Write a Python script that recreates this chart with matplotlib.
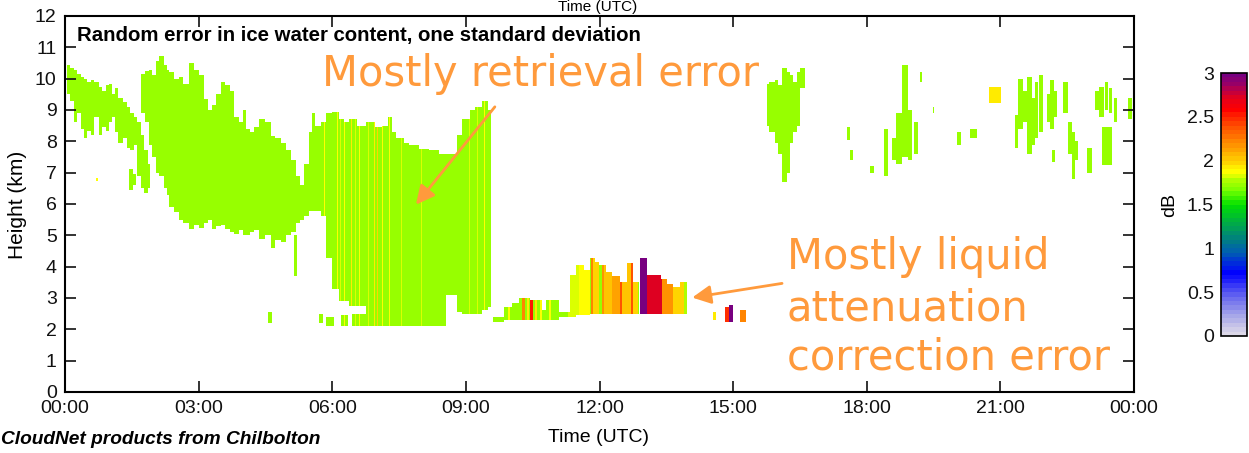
import numpy as np
import matplotlib
matplotlib.use("Agg")
import matplotlib.pyplot as plt
from matplotlib.colors import LinearSegmentedColormap, ListedColormap

plt.rcParams["font.family"] = ["Liberation Sans", "DejaVu Sans"]

# ---------------------------------------------------------------- axes labels
hour_ticks = [0, 3, 6, 9, 12, 15, 18, 21, 24]
hour_labels = ["00:00", "03:00", "06:00", "09:00", "12:00", "15:00", "18:00", "21:00", "00:00"]
height_ticks = list(range(0, 13))
err_ticks = [0, 0.5, 1, 1.5, 2, 2.5, 3]
err_tick_labels = ["0", "0.5", "1", "1.5", "2", "2.5", "3"]

# ---------------------------------------------------------------- cloud columns
# (start hour, end hour, base km, top km); typical ice random error in dB below
cirrus_early = [
    (0.05, 0.12, 9.5, 10.45), (0.12, 0.20, 9.3, 10.35), (0.20, 0.27, 8.6, 10.3),
    (0.27, 0.36, 8.9, 10.15), (0.36, 0.43, 8.4, 10.05), (0.43, 0.50, 8.1, 10.0),
    (0.50, 0.58, 8.35, 9.9), (0.58, 0.65, 8.2, 9.95), (0.65, 0.76, 8.8, 9.9),
    (0.76, 0.84, 8.2, 9.75), (0.84, 0.92, 8.45, 9.6), (0.92, 0.99, 8.35, 9.8),
    (0.99, 1.06, 8.6, 9.85), (1.06, 1.12, 8.8, 9.5), (1.12, 1.20, 8.3, 9.7),
    (1.20, 1.30, 7.95, 9.4), (1.30, 1.38, 8.1, 9.25), (1.38, 1.46, 7.8, 9.1),
    (1.46, 1.55, 7.7, 8.9), (1.55, 1.62, 7.9, 8.8), (1.44, 1.52, 6.45, 7.1),
    (1.52, 1.58, 6.6, 6.95), (1.62, 1.70, 6.9, 8.6), (1.70, 1.78, 6.5, 8.2),
    (1.78, 1.86, 6.35, 7.7), (1.86, 1.92, 6.5, 7.3),
]
cirrus_thick = [
    (1.71, 1.80, 8.9, 10.15), (1.80, 1.89, 8.6, 10.25), (1.89, 1.96, 7.9, 10.3),
    (1.96, 2.04, 7.5, 10.1), (2.04, 2.12, 7.0, 10.55), (2.12, 2.22, 6.9, 10.7),
    (2.22, 2.28, 6.5, 10.45), (2.28, 2.34, 6.3, 10.3), (2.34, 2.45, 5.9, 10.2),
    (2.45, 2.56, 5.75, 10.0), (2.56, 2.66, 5.5, 10.05), (2.66, 2.79, 5.4, 9.85),
    (2.79, 2.90, 5.2, 10.5), (2.90, 3.01, 5.35, 10.3), (3.01, 3.12, 5.25, 10.1),
    (3.12, 3.20, 5.4, 9.35), (3.20, 3.30, 5.5, 9.0), (3.30, 3.39, 5.2, 9.15),
    (3.39, 3.51, 5.3, 9.5), (3.51, 3.60, 5.35, 9.9), (3.60, 3.70, 5.2, 9.8),
    (3.70, 3.80, 5.1, 9.6), (3.80, 3.90, 5.05, 8.8), (3.90, 4.00, 5.15, 8.6),
    (4.00, 4.07, 5.0, 9.0), (4.07, 4.16, 5.0, 8.4), (4.16, 4.25, 5.1, 8.3),
    (4.25, 4.36, 5.15, 8.45), (4.36, 4.48, 4.9, 8.7), (4.48, 4.63, 5.0, 8.6),
    (4.63, 4.72, 4.6, 8.15), (4.72, 4.85, 4.85, 8.1), (4.85, 4.97, 4.8, 7.95),
    (4.97, 5.08, 5.0, 7.7), (5.08, 5.19, 5.1, 7.4), (5.15, 5.22, 3.7, 5.0),
    (5.19, 5.28, 5.4, 6.9), (5.28, 5.37, 5.5, 6.6), (5.37, 5.48, 5.6, 7.3),
]
cirrus_deep = [
    (5.48, 5.55, 5.8, 8.3), (5.55, 5.62, 5.8, 8.9), (5.62, 5.75, 5.8, 8.5),
    (5.75, 5.87, 5.6, 8.6), (5.87, 6.00, 4.3, 8.9), (6.00, 6.16, 3.3, 8.95),
    (6.16, 6.27, 2.9, 8.7), (6.27, 6.38, 2.9, 8.6), (6.38, 6.55, 2.75, 8.7),
    (6.55, 6.76, 2.75, 8.5), (6.76, 6.95, 2.5, 8.6), (6.95, 7.12, 2.5, 8.45),
    (7.12, 7.25, 2.1, 8.5), (7.25, 7.35, 2.1, 8.8), (7.35, 7.44, 2.1, 8.3),
    (7.44, 7.60, 2.1, 8.1), (7.60, 7.73, 2.1, 7.95), (7.73, 7.96, 2.1, 7.9),
    (7.96, 8.18, 2.1, 7.75), (8.18, 8.40, 2.1, 7.7), (8.40, 8.56, 2.1, 7.6),
    (8.56, 8.79, 3.1, 7.6), (8.79, 8.92, 2.55, 8.2), (8.92, 9.08, 2.5, 8.7),
    (9.08, 9.20, 2.5, 9.0), (9.20, 9.37, 2.5, 9.1), (9.37, 9.50, 2.6, 9.3),
    (9.50, 9.57, 2.7, 9.0),
]
low_patches = [
    (4.56, 4.65, 2.2, 2.55), (5.70, 5.78, 2.2, 2.5), (5.87, 6.05, 2.1, 2.4),
    (6.20, 6.35, 2.1, 2.45), (6.45, 7.15, 2.1, 2.5),
]
mixed_phase = [
    (9.60, 9.87, 2.25, 2.4), (9.87, 10.04, 2.3, 2.7), (10.04, 10.20, 2.3, 2.85),
    (10.20, 10.45, 2.3, 3.0), (10.45, 10.72, 2.3, 2.95), (10.72, 10.81, 2.3, 2.6),
    (10.81, 11.10, 2.3, 2.95), (11.10, 11.33, 2.4, 2.55), (11.33, 11.48, 2.4, 3.75),
    (11.48, 11.66, 2.45, 4.05), (11.66, 11.78, 2.45, 3.9), (11.78, 11.90, 2.5, 4.3),
    (11.90, 12.00, 2.5, 4.15), (12.00, 12.15, 2.5, 4.05), (12.15, 12.29, 2.5, 3.85),
    (12.29, 12.45, 2.5, 3.7), (12.45, 12.61, 2.5, 3.5), (12.61, 12.74, 2.5, 4.1),
    (12.74, 12.88, 2.5, 3.5), (12.90, 13.06, 2.5, 4.3), (13.07, 13.39, 2.5, 3.75),
    (13.39, 13.52, 2.5, 3.6), (13.52, 13.64, 2.5, 3.45), (13.64, 13.80, 2.5, 3.35),
    (13.80, 13.96, 2.5, 3.5),
    (14.56, 14.62, 2.3, 2.55), (14.81, 14.92, 2.25, 2.7), (14.92, 15.00, 2.25, 2.8),
    (15.15, 15.28, 2.25, 2.6),
]
cirrus_late = [
    (15.75, 15.82, 8.5, 9.85), (15.82, 15.93, 8.3, 9.9), (15.93, 16.00, 7.95, 9.95),
    (16.00, 16.11, 7.6, 9.8), (16.11, 16.20, 6.7, 10.35), (16.20, 16.27, 7.0, 10.2),
    (16.27, 16.35, 7.95, 10.1), (16.35, 16.43, 8.3, 9.9), (16.43, 16.50, 8.5, 10.2),
    (16.50, 16.61, 9.7, 10.35),
    (17.57, 17.62, 8.05, 8.45), (17.62, 17.70, 7.4, 7.7), (18.07, 18.16, 7.0, 7.2),
    (18.38, 18.47, 6.9, 8.4), (18.56, 18.67, 7.4, 8.1), (18.67, 18.79, 7.3, 8.9),
    (18.79, 18.92, 7.5, 10.45), (18.92, 19.02, 7.4, 9.0), (19.05, 19.15, 7.6, 8.6),
    (19.19, 19.24, 9.9, 10.2), (19.48, 19.51, 8.9, 9.1),
    (20.02, 20.11, 7.9, 8.3), (20.31, 20.47, 8.1, 8.4), (20.74, 21.01, 9.2, 9.75),
    (21.33, 21.40, 7.8, 8.85), (21.40, 21.50, 8.4, 10.0), (21.52, 21.60, 8.6, 9.6),
    (21.60, 21.70, 7.6, 10.06), (21.70, 21.78, 7.9, 9.4), (21.78, 21.84, 8.1, 9.9),
    (21.86, 21.96, 8.3, 10.1), (22.04, 22.12, 8.6, 9.5), (22.12, 22.20, 8.4, 9.97),
    (22.20, 22.27, 8.8, 9.6), (22.16, 22.22, 7.35, 7.7), (22.40, 22.52, 8.9, 9.9),
    (22.52, 22.60, 7.6, 8.6), (22.60, 22.68, 6.8, 8.3), (22.68, 22.74, 7.4, 8.0),
    (22.94, 23.06, 7.0, 7.8), (23.12, 23.22, 9.0, 9.6), (23.22, 23.32, 8.8, 9.75),
    (23.34, 23.42, 9.0, 9.9), (23.44, 23.52, 8.9, 9.7), (23.55, 23.62, 8.6, 9.4),
    (23.28, 23.51, 7.25, 8.45), (23.87, 23.96, 8.7, 9.4),
]
ice_error_db = 1.73

# columns with larger random error: (start hour, end hour, error dB)
column_error = [
    (5.81, 5.835, 1.85), (6.10, 6.125, 1.88), (6.18, 6.2, 1.8), (6.26, 6.285, 1.85),
    (6.42, 6.445, 1.92), (6.52, 6.54, 1.8), (6.60, 6.625, 1.87), (6.80, 6.82, 1.8),
    (6.93, 6.955, 1.9), (7.00, 7.025, 1.95), (7.11, 7.135, 1.87), (7.27, 7.295, 1.85),
    (7.40, 7.42, 1.8), (7.54, 7.565, 1.83), (7.99, 8.015, 1.8), (9.07, 9.095, 1.82),
    (9.25, 9.27, 1.8), (9.41, 9.435, 1.86),
    (9.95, 10.00, 1.88), (10.27, 10.32, 2.2), (10.38, 10.42, 1.9), (10.45, 10.50, 2.5),
    (10.56, 10.60, 1.9), (10.66, 10.70, 1.88), (10.86, 10.90, 1.85), (11.30, 11.55, 1.8),
    (11.55, 11.78, 1.85), (11.80, 11.85, 2.2), (11.85, 12.00, 1.97), (12.05, 12.10, 2.15),
    (12.10, 12.29, 2.0), (12.29, 12.45, 2.1), (12.47, 12.51, 2.35), (12.51, 12.70, 2.0),
    (12.70, 12.76, 2.4), (12.76, 12.86, 1.95), (12.90, 13.06, 2.97), (13.07, 13.40, 2.72),
    (13.40, 13.64, 2.15), (13.64, 13.90, 1.98), (13.90, 13.96, 1.75),
    (14.56, 14.62, 1.9), (14.81, 14.92, 2.45), (14.92, 15.00, 2.95), (15.15, 15.28, 2.2),
    (20.74, 21.01, 1.9),
]
# isolated cells: (start hour, end hour, base km, top km, error dB)
single_cells = [(0.70, 0.75, 6.75, 6.85, 1.86)]

# ---------------------------------------------------------------- colour scale
cmap_levels = [0.0, 0.2, 0.45, 0.7, 0.95, 1.1, 1.3, 1.5, 1.65, 1.78, 1.88,
               2.0, 2.2, 2.45, 2.6, 2.75, 2.88, 3.0]
cmap_colors = ["#dcd8e8", "#a8a8e8", "#6060f0", "#0000ff", "#0060b0", "#008080",
               "#00b040", "#00e000", "#70ff00", "#b0ff00", "#ffff00", "#ffd000",
               "#ff9000", "#ff4000", "#ff0000", "#e00020", "#a00060", "#780080"]
smooth = LinearSegmentedColormap.from_list(
    "cloudnet", list(zip(np.array(cmap_levels) / 3.0, cmap_colors)))
cmap = ListedColormap(smooth(np.linspace(0, 1, 60)))

# ---------------------------------------------------------------- gridded field
dt, dz = 1 / 120, 0.03
t_mid = np.arange(0, 24, dt) + dt / 2
z_mid = np.arange(0, 12, dz) + dz / 2
field = np.full((z_mid.size, t_mid.size), np.nan)

for group in (cirrus_early, cirrus_thick, cirrus_deep, low_patches, mixed_phase, cirrus_late):
    for t0, t1, base, top in group:
        cols = (t_mid >= t0) & (t_mid < t1)
        rows = (z_mid >= base) & (z_mid < top)
        field[np.ix_(rows, cols)] = ice_error_db

for t0, t1, err in column_error:
    cols = (t_mid >= t0) & (t_mid < t1)
    sub = field[:, cols]
    sub[~np.isnan(sub)] = err
    field[:, cols] = sub

for t0, t1, base, top, err in single_cells:
    cols = (t_mid >= t0) & (t_mid < t1)
    rows = (z_mid >= base) & (z_mid < top)
    field[np.ix_(rows, cols)] = err

# ---------------------------------------------------------------- figure
W, H = 1249, 453
fig = plt.figure(figsize=(W / 100, H / 100), dpi=100)
ax = fig.add_axes([65 / W, 1 - 392 / H, (1134 - 65) / W, (392 - 16) / H])

im = ax.imshow(np.ma.masked_invalid(field), origin="lower", extent=[0, 24, 0, 12],
               aspect="auto", cmap=cmap, vmin=0, vmax=3, interpolation="nearest")

ax.set_xlim(0, 24)
ax.set_ylim(0, 12)
ax.set_xticks(hour_ticks)
ax.set_xticklabels(hour_labels)
ax.set_yticks(height_ticks)
ax.tick_params(direction="in", length=8, width=1.2, top=True, right=True,
               labelsize=14, colors="#111111", pad=6)
for s in ax.spines.values():
    s.set_linewidth(1.5)

ax.text(0.27, 11.37, "Random error in ice water content, one standard deviation",
        fontsize=14.7, fontweight="bold", va="center", ha="left")

orange = "#ff9a3c"
ax.text(5.78, 10.15, "Mostly retrieval error", fontsize=30, color=orange,
        family="DejaVu Sans", va="center", ha="left")
for z, line in zip([4.31, 2.68, 1.09], ["Mostly liquid", "attenuation", "correction error"]):
    ax.text(16.2, z, line, fontsize=30, color=orange, family="DejaVu Sans",
            va="center", ha="left", clip_on=False)
ax.annotate("", xy=(7.84, 5.91), xytext=(9.69, 9.17),
            arrowprops=dict(arrowstyle="-|>", color=orange, lw=2, mutation_scale=28))
ax.annotate("", xy=(14.02, 3.0), xytext=(16.16, 3.48),
            arrowprops=dict(arrowstyle="-|>", color=orange, lw=2, mutation_scale=28))

fig.text(18 / W, 1 - 205 / H, "Height (km)", rotation=90, fontsize=15,
         va="center", ha="center")
fig.text(598 / W, 1 - 438 / H, "Time (UTC)", fontsize=14, va="center", ha="center")
fig.text(598 / W, 1 - 7 / H, "Time (UTC)", fontsize=11, va="center", ha="center")
fig.text(1 / W, 1 - 440 / H, "CloudNet products from Chilbolton", fontsize=13.8,
         fontweight="bold", style="italic", va="center", ha="left")

cax = fig.add_axes([1221 / W, 1 - 336 / H, 26 / W, 263 / H])
cb = fig.colorbar(im, cax=cax, ticks=err_ticks)
cb.ax.set_yticklabels(err_tick_labels)
cb.ax.yaxis.set_ticks_position("left")
cb.ax.tick_params(length=0, labelsize=14, pad=5, colors="#111111")
cb.outline.set_linewidth(1.2)
fig.text(1170 / W, 1 - 205 / H, "dB", rotation=90, fontsize=14, va="center", ha="center")

fig.savefig("out.png", dpi=100)
